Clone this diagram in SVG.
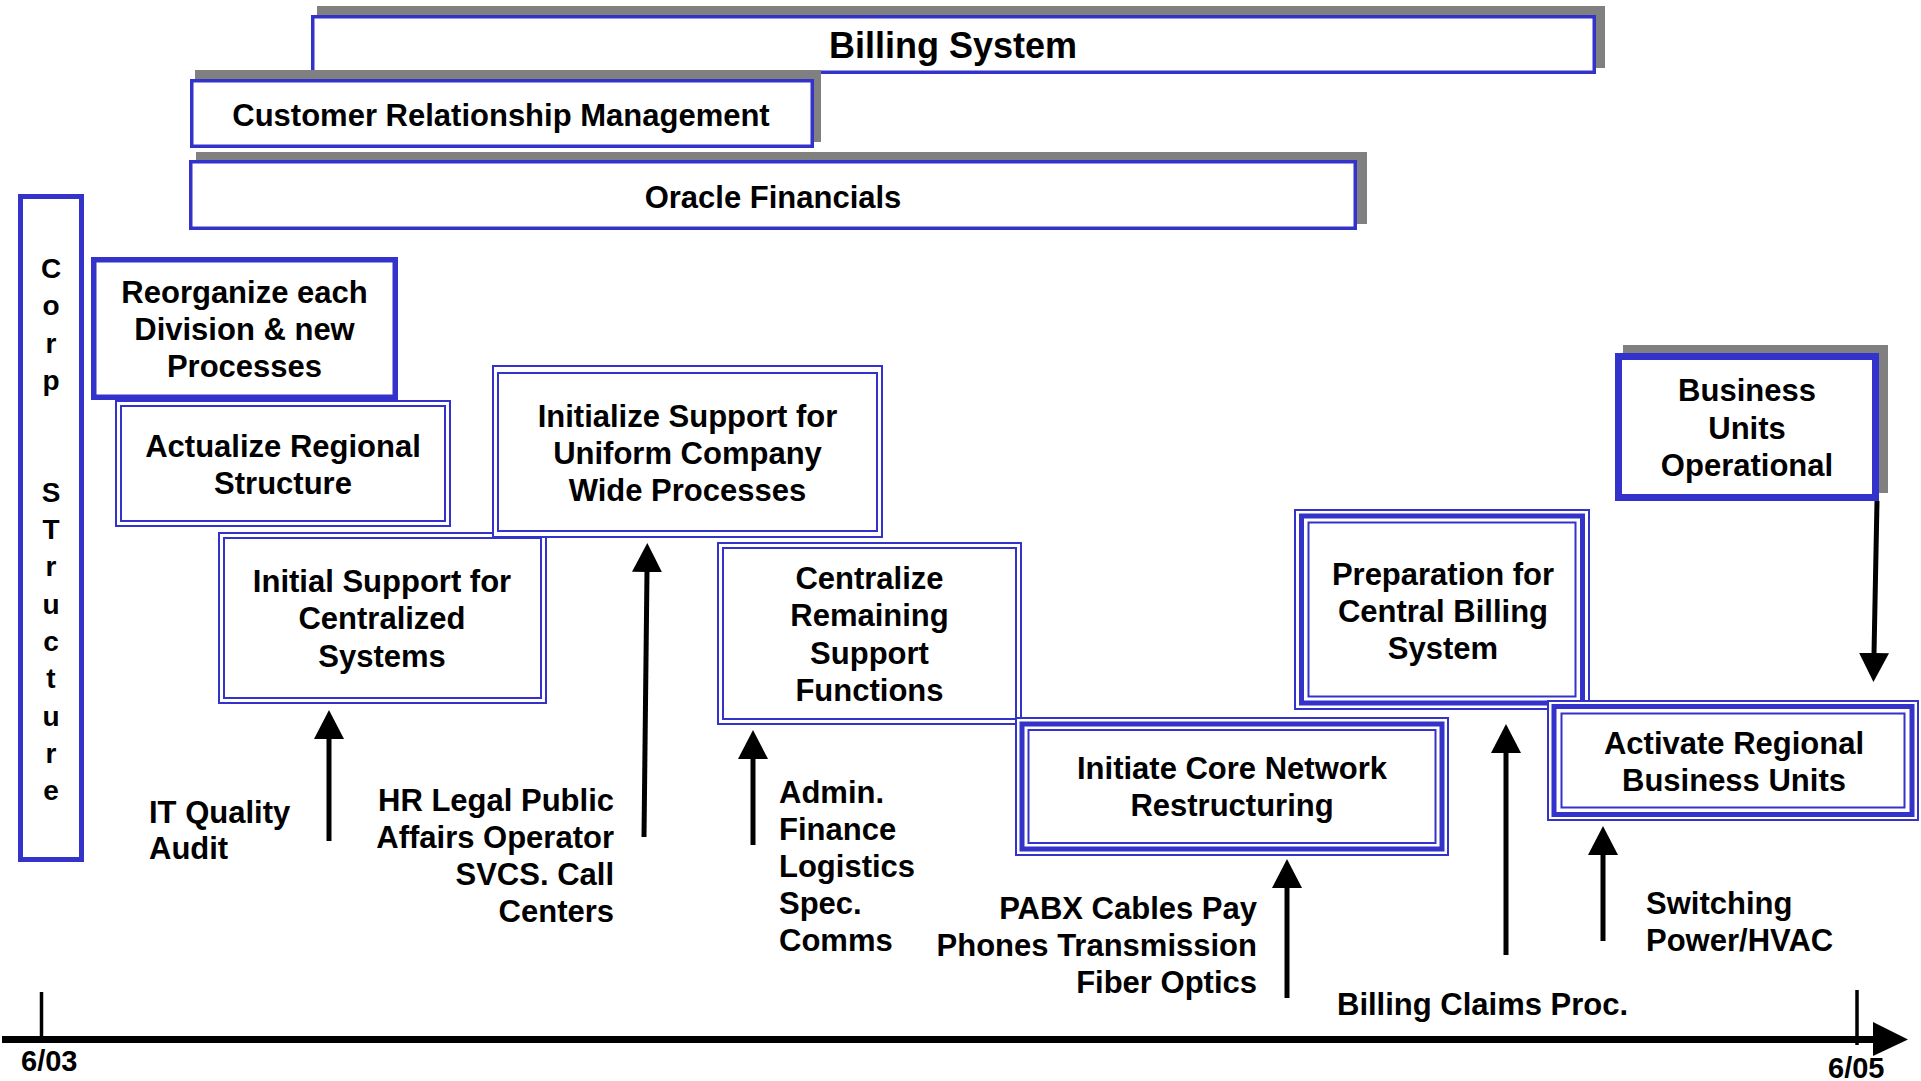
<svg xmlns="http://www.w3.org/2000/svg" width="1921" height="1081" viewBox="0 0 1921 1081">
  <defs>
    <style>
      text { font-family: "Liberation Sans", Arial, Helvetica, sans-serif; font-weight: bold; font-size: 31px; fill: #000; }
      .c { text-anchor: middle; }
      .r { text-anchor: end; }
      .shadow { fill: #808080; stroke: none; }
      .frame { fill: #fff; stroke: #3333CC; }
      .thin { fill: #fff; stroke: #3333CC; stroke-width: 2; }
      .thinIn { fill: none; stroke: #3333CC; stroke-width: 2; }
      .thick { fill: none; stroke: #3333CC; stroke-width: 5; }
      .arrow { stroke: #000; stroke-width: 5; fill: none; marker-end: url(#head); }
      .letter { font-size: 28px; text-anchor: middle; }
    </style>
    <marker id="head" markerUnits="userSpaceOnUse" viewBox="0 0 29 30" markerWidth="29" markerHeight="30" refX="1" refY="15" orient="auto">
      <path d="M0,0 L29,15 L0,30 Z" fill="#000"/>
    </marker>
  </defs>

  <rect width="1921" height="1081" fill="#fff"/>

  <!-- long-running programme bars -->
  <g id="billing-system">
    <rect class="shadow" x="317" y="6" width="1288" height="62"/>
    <rect class="frame" stroke-width="3.5" x="312.75" y="16.75" width="1281.5" height="55.5"/>
    <text class="c" x="953" y="58" style="font-size:36px">Billing System</text>
  </g>
  <g id="crm">
    <rect class="shadow" x="195" y="70" width="626" height="72"/>
    <rect class="frame" stroke-width="3.5" x="191.75" y="80.75" width="620.5" height="65.5"/>
    <text class="c" x="501" y="126" style="font-size:31px">Customer Relationship Management</text>
  </g>
  <g id="oracle-financials">
    <rect class="shadow" x="196" y="152" width="1171" height="72"/>
    <rect class="frame" stroke-width="3.5" x="190.75" y="161.75" width="1164.5" height="66.5"/>
    <text class="c" x="773" y="208" style="font-size:31px">Oracle Financials</text>
  </g>

  <!-- vertical corp structure band -->
  <g id="corp-structure">
    <rect class="frame" stroke-width="5" x="20.5" y="196.5" width="61" height="663"/>
    <text class="letter" x="51" y="278">C</text>
    <text class="letter" x="51" y="315.3">o</text>
    <text class="letter" x="51" y="352.6">r</text>
    <text class="letter" x="51" y="389.9">p</text>
    <text class="letter" x="51" y="501.7">S</text>
    <text class="letter" x="51" y="539">T</text>
    <text class="letter" x="51" y="576.3">r</text>
    <text class="letter" x="51" y="613.6">u</text>
    <text class="letter" x="51" y="650.9">c</text>
    <text class="letter" x="51" y="688.2">t</text>
    <text class="letter" x="51" y="725.5">u</text>
    <text class="letter" x="51" y="762.8">r</text>
    <text class="letter" x="51" y="800">e</text>
  </g>

  <!-- phase steps -->
  <g id="actualize-regional">
    <rect class="thin" x="116" y="401" width="334" height="125"/>
    <rect class="thinIn" x="121" y="406" width="324" height="115"/>
    <text class="c" x="283" y="457">Actualize Regional</text>
    <text class="c" x="283" y="494">Structure</text>
  </g>
  <g id="reorganize">
    <rect class="frame" stroke-width="5.5" x="93.75" y="259.75" width="301.5" height="137.5"/>
    <text class="c" x="244.5" y="303">Reorganize each</text>
    <text class="c" x="244.5" y="340">Division &amp; new</text>
    <text class="c" x="244.5" y="377">Processes</text>
  </g>
  <g id="initial-support">
    <rect class="thin" x="219" y="533" width="327" height="170"/>
    <rect class="thinIn" x="224" y="538" width="317" height="160"/>
    <text class="c" x="382" y="592">Initial Support for</text>
    <text class="c" x="382" y="629">Centralized</text>
    <text class="c" x="382" y="667">Systems</text>
  </g>
  <g id="initialize-support">
    <rect class="thin" x="493" y="366" width="389" height="171"/>
    <rect class="thinIn" x="498" y="373" width="379" height="158"/>
    <text class="c" x="687.5" y="427">Initialize Support for</text>
    <text class="c" x="687.5" y="464">Uniform Company</text>
    <text class="c" x="687.5" y="501">Wide Processes</text>
  </g>
  <g id="centralize-remaining">
    <rect class="thin" x="718" y="543" width="303" height="181"/>
    <rect class="thinIn" x="723" y="548" width="293" height="171"/>
    <text class="c" x="869.5" y="589">Centralize</text>
    <text class="c" x="869.5" y="626">Remaining</text>
    <text class="c" x="869.5" y="664">Support</text>
    <text class="c" x="869.5" y="701">Functions</text>
  </g>
  <g id="initiate-core-network">
    <rect class="thin" x="1016" y="718" width="432" height="137"/>
    <rect class="thick" x="1022" y="724" width="420" height="125"/>
    <rect class="thinIn" x="1028.5" y="730" width="407" height="113"/>
    <text class="c" x="1232" y="779">Initiate Core Network</text>
    <text class="c" x="1232" y="816">Restructuring</text>
  </g>
  <g id="preparation-billing">
    <rect class="thin" x="1295" y="510" width="294" height="199"/>
    <rect class="thick" x="1301.5" y="516" width="281" height="187"/>
    <rect class="thinIn" x="1308.5" y="522.5" width="267" height="174"/>
    <text class="c" x="1443" y="585">Preparation for</text>
    <text class="c" x="1443" y="622">Central Billing</text>
    <text class="c" x="1443" y="659">System</text>
  </g>
  <g id="business-units-operational">
    <rect class="shadow" x="1623" y="345" width="265" height="148"/>
    <rect class="frame" stroke-width="7" x="1618.5" y="356.5" width="257" height="141"/>
    <text class="c" x="1747" y="401">Business</text>
    <text class="c" x="1747" y="439">Units</text>
    <text class="c" x="1747" y="476">Operational</text>
  </g>
  <g id="activate-regional">
    <rect class="thin" x="1548" y="701" width="370" height="119"/>
    <rect class="thick" x="1554" y="706.5" width="358" height="108"/>
    <rect class="thinIn" x="1561.5" y="713.5" width="343" height="94"/>
    <text class="c" x="1734" y="754">Activate Regional</text>
    <text class="c" x="1734" y="791">Business Units</text>
  </g>

  <!-- driver labels -->
  <g id="label-it">
    <text x="149" y="823">IT Quality</text>
    <text x="149" y="859">Audit</text>
  </g>
  <g id="label-hr">
    <text class="r" x="614" y="811">HR Legal Public</text>
    <text class="r" x="614" y="848">Affairs Operator</text>
    <text class="r" x="614" y="885">SVCS. Call</text>
    <text class="r" x="614" y="922">Centers</text>
  </g>
  <g id="label-admin">
    <text x="779" y="803">Admin.</text>
    <text x="779" y="840">Finance</text>
    <text x="779" y="877">Logistics</text>
    <text x="779" y="914">Spec.</text>
    <text x="779" y="951">Comms</text>
  </g>
  <g id="label-pabx">
    <text class="r" x="1257" y="919">PABX Cables Pay</text>
    <text class="r" x="1257" y="956">Phones Transmission</text>
    <text class="r" x="1257" y="993">Fiber Optics</text>
  </g>
  <g id="label-billing-claims">
    <text x="1337" y="1015">Billing Claims Proc.</text>
  </g>
  <g id="label-switching">
    <text x="1646" y="914">Switching</text>
    <text x="1646" y="951">Power/HVAC</text>
  </g>

  <!-- arrows -->
  <g id="connectors">
    <line class="arrow" x1="329" y1="841" x2="329" y2="738"/>
    <line class="arrow" x1="644" y1="837" x2="647" y2="571"/>
    <line class="arrow" x1="753" y1="845" x2="753" y2="758"/>
    <line class="arrow" x1="1287" y1="998" x2="1287" y2="887"/>
    <line class="arrow" x1="1506" y1="955" x2="1506" y2="752"/>
    <line class="arrow" x1="1603" y1="941" x2="1603" y2="854"/>
    <line class="arrow" x1="1877" y1="501" x2="1874" y2="654"/>
  </g>

  <!-- time axis -->
  <g id="timeline">
    <line x1="2" y1="1039.5" x2="1874" y2="1039.5" stroke="#000" stroke-width="7"/>
    <path d="M1873,1022 L1908,1039.5 L1873,1056 Z" fill="#000"/>
    <line x1="41.5" y1="992" x2="41.5" y2="1039" stroke="#000" stroke-width="3.5"/>
    <line x1="1857" y1="990" x2="1857" y2="1045" stroke="#000" stroke-width="3.5"/>
    <text x="21" y="1071" style="font-size:29px">6/03</text>
    <text x="1828" y="1078" style="font-size:29px">6/05</text>
  </g>
</svg>
